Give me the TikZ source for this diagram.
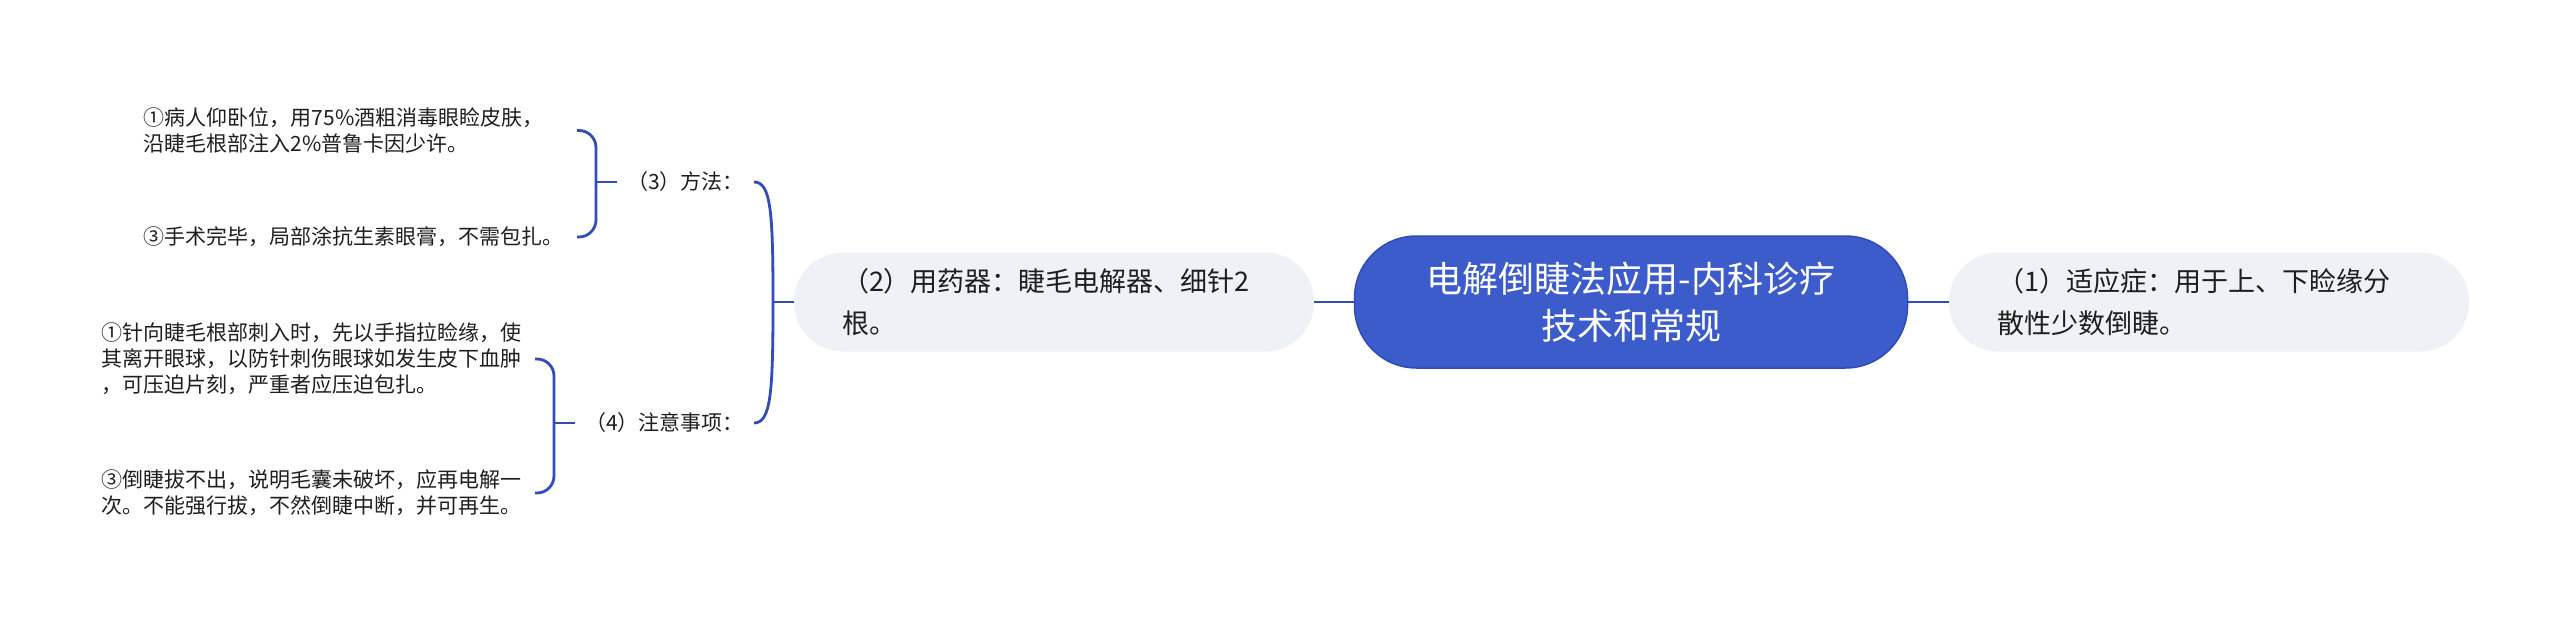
\documentclass[tikz,border=0pt]{standalone}
\usepackage{fontspec}
\setmainfont{Noto Sans CJK SC}
\usetikzlibrary{positioning}
\definecolor{rootblue}{RGB}{61,92,204}
\definecolor{rootedge}{RGB}{47,74,182}
\definecolor{linkblue}{RGB}{50,76,186}
\definecolor{topicgray}{RGB}{238,241,245}
\definecolor{inkdark}{RGB}{30,30,30}
\tikzset{
  root/.style={draw=rootedge,line width=1.5pt,fill=rootblue,text=white,
    rounded corners=62pt,minimum width=553pt,minimum height=132pt,
    text width=480pt,align=center,font=\fontsize{36}{47}\selectfont},
  topic/.style={fill=topicgray,rounded corners=49pt,minimum width=520pt,
    minimum height=99pt,inner xsep=48pt,text width=424pt,align=left,
    text=inkdark,font=\fontsize{27}{42}\selectfont},
  branch/.style={inner xsep=10pt,text=inkdark,font=\fontsize{21}{26}\selectfont},
  leaf/.style={inner sep=0pt,text width=433pt,align=left,text=inkdark,
    font=\fontsize{21}{26}\selectfont},
  link/.style={draw=linkblue,line width=2.8pt},
}

\begin{document}
\begin{tikzpicture}[x=1pt,y=-1pt]
\useasboundingbox (0,0) rectangle (2560,618);
% root and main topics:
 \node[root] (root) at (1631,302) {电解倒睫法应用-内科诊疗\\技术和常规};
 \node[topic] (t1) at (2209,302) {（1）适应症：用于上、下睑缘分\\散性少数倒睫。};
 \node[topic] (t2) at (1054,302) {（2）用药器：睫毛电解器、细针2\\根。};
 \draw[link] (root.east) -- (t1.west);
 \draw[link] (root.west) -- (t2.east);
% sub topics of (2):
 \node[branch,anchor=east] (m3) at (754,182) {（3）方法：};
 \node[branch,anchor=east] (m4) at (754,423) {（4）注意事项：};
 \coordinate (b2) at (773,302);
 \draw[link] (t2.west) -- (b2);
 \draw[link] (b2) .. controls (773,212) and (771,182) .. (m3.east);
 \draw[link] (b2) .. controls (773,392) and (771,423) .. (m4.east);
% leaves:
 \node[leaf,anchor=east] (l31) at (577,130.5) {①病人仰卧位，用75\%酒粗消毒眼睑皮肤，\\沿睫毛根部注入2\%普鲁卡因少许。};
 \node[leaf,anchor=east] (l32) at (577,237) {③手术完毕，局部涂抗生素眼膏，不需包扎。};
 \node[leaf,anchor=east] (l41) at (535,359) {①针向睫毛根部刺入时，先以手指拉睑缘，使\\其离开眼球，以防针刺伤眼球如发生皮下血肿\\，可压迫片刻，严重者应压迫包扎。};
 \node[leaf,anchor=east] (l42) at (535,493) {③倒睫拔不出，说明毛囊未破坏，应再电解一\\次。不能强行拔，不然倒睫中断，并可再生。};
%% brackets:
 \coordinate (b3) at (596,182);
 \draw[link,rounded corners=17pt] (l31.east) -| (b3) |- (l32.east);
 \draw[link] (b3) -- (m3.west);
 \coordinate (b4) at (554,423);
 \draw[link,rounded corners=17pt] (l41.east) -| (b4) |- (l42.east);
 \draw[link] (b4) -- (m4.west);
\end{tikzpicture}
\end{document}
